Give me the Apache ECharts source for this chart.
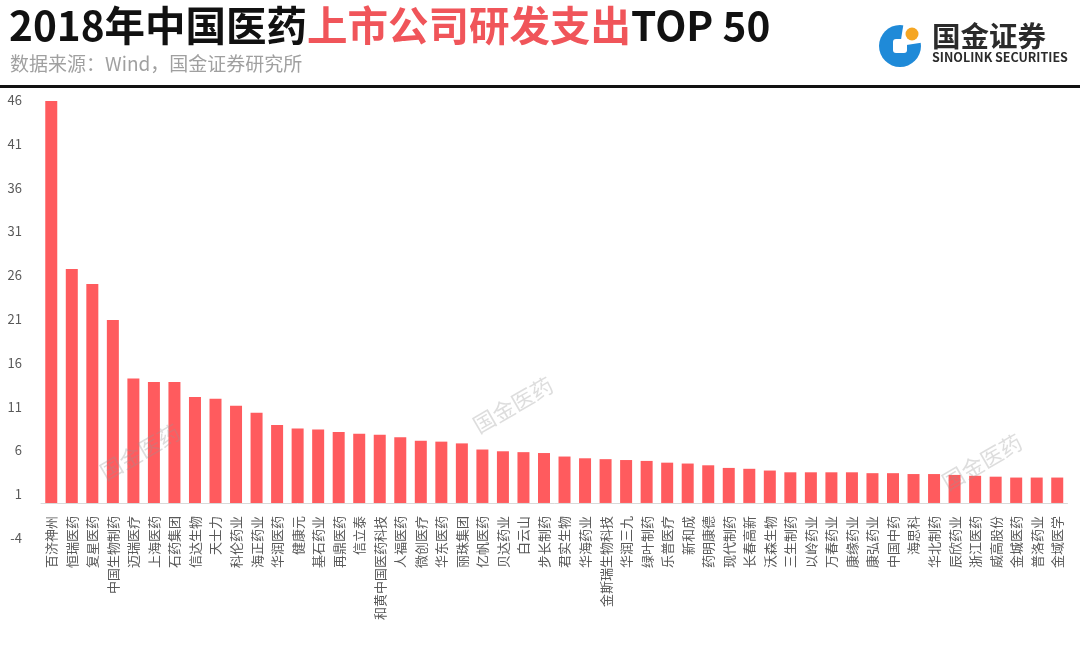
<!DOCTYPE html>
<html>
<head>
<meta charset="utf-8">
<style>
html,body{margin:0;padding:0;background:#fff;}
#chart{width:1080px;height:671px;}
</style>
<script src="https://cdn.jsdelivr.net/npm/echarts@6/dist/echarts.min.js"></script>
</head>
<body>
<div id="chart"></div>
<script>
const categories = ['百济神州','恒瑞医药','复星医药','中国生物制药','迈瑞医疗','上海医药','石药集团','信达生物','天士力','科伦药业','海正药业','华润医药','健康元','基石药业','再鼎医药','信立泰','和黄中国医药科技','人福医药','微创医疗','华东医药','丽珠集团','亿帆医药','贝达药业','白云山','步长制药','君实生物','华海药业','金斯瑞生物科技','华润三九','绿叶制药','乐普医疗','新和成','药明康德','现代制药','长春高新','沃森生物','三生制药','以岭药业','万春药业','康缘药业','康弘药业','中国中药','海思科','华北制药','辰欣药业','浙江医药','威高股份','金城医药','普洛药业','金域医学'];
const rdSpending = [45.9,26.7,25.0,20.9,14.2,13.8,13.8,12.1,11.9,11.1,10.3,8.9,8.5,8.4,8.1,7.9,7.8,7.5,7.1,7.0,6.8,6.1,5.9,5.8,5.7,5.3,5.1,5.0,4.9,4.8,4.6,4.5,4.3,4.0,3.9,3.7,3.5,3.5,3.5,3.5,3.4,3.4,3.3,3.3,3.2,3.1,3.0,2.9,2.9,2.9];
const yMin = -4, yMax = 46, yStep = 5;
const titleBlack1 = '2018年中国医药';
const titleRed = '上市公司研发支出';
const titleBlack2 = 'TOP 50';
const sourceText = '数据来源：Wind，国金证券研究所';
const watermarkText = '国金医药';

const FONT = '"Noto Sans CJK SC", "Noto Sans", sans-serif';
const chart = echarts.init(document.getElementById('chart'));

const wm = (x, y) => ({
  type: 'text', x: x, y: y, rotation: Math.PI / 6, z: 100,
  style: { text: watermarkText, font: '22px ' + FONT, fill: 'rgba(150,150,150,0.32)', align: 'center', verticalAlign: 'middle' }
});

chart.setOption({
  backgroundColor: '#fff',
  textStyle: { fontFamily: FONT },
  grid: { left: 41, right: 12.5, top: 100, bottom: 133, containLabel: false },
  xAxis: {
    type: 'category',
    data: categories,
    axisLine: { lineStyle: { color: '#d9d9d9', width: 1 } },
    axisTick: { show: false },
    axisLabel: { rotate: 90, interval: 0, color: '#595959', fontSize: 13, margin: -22, fontFamily: FONT }
  },
  yAxis: {
    type: 'value',
    min: yMin, max: yMax, interval: yStep,
    axisLine: { show: false },
    axisTick: { show: false },
    splitLine: { show: false },
    axisLabel: { color: '#595959', fontSize: 13, margin: 19, fontFamily: FONT }
  },
  series: [{
    type: 'bar',
    data: rdSpending,
    barWidth: 12,
    itemStyle: { color: '#ff5b5e' },
    silent: true
  }],
  animation: false,
  graphic: [
    {
      type: 'text', x: 9, y: 5,
      style: {
        text: '{a|' + titleBlack1 + '}{b|' + titleRed + '}{a|' + titleBlack2 + '}',
        rich: {
          a: { font: 'bold 40.5px ' + FONT, fill: '#111' },
          b: { font: 'bold 40.5px ' + FONT, fill: '#f0555a' }
        }
      }
    },
    {
      type: 'text', x: 10, y: 54,
      style: { text: sourceText, font: '19px ' + FONT, fill: '#a0a0a0' }
    },
    {
      type: 'rect', shape: { x: 0, y: 85, width: 1080, height: 3 },
      style: { fill: '#111' }
    },
    // logo
    { type: 'circle', shape: { cx: 900, cy: 46, r: 21 }, style: { fill: '#1f8ad8' } },
    { type: 'sector', shape: { cx: 900, cy: 46, r: 23, r0: 0, startAngle: -Math.PI * 0.45, endAngle: -Math.PI * 0.05 }, style: { fill: '#fff' } },
    { type: 'rect', shape: { x: 893, y: 39, width: 14, height: 14, r: 3 }, style: { fill: '#fff' } },
    { type: 'circle', shape: { cx: 912, cy: 34, r: 6.5 }, style: { fill: '#f5a623' } },
    { type: 'text', x: 932, y: 22, style: { text: '国金证券', font: 'bold 28.5px ' + FONT, fill: '#2b2b2b' } },
    { type: 'text', x: 932, y: 51, style: { text: 'SINOLINK SECURITIES', font: 'bold 12.5px ' + FONT, fill: '#2b2b2b' } },
    wm(140, 452), wm(513, 405), wm(982, 462)
  ]
});
</script>
</body>
</html>
